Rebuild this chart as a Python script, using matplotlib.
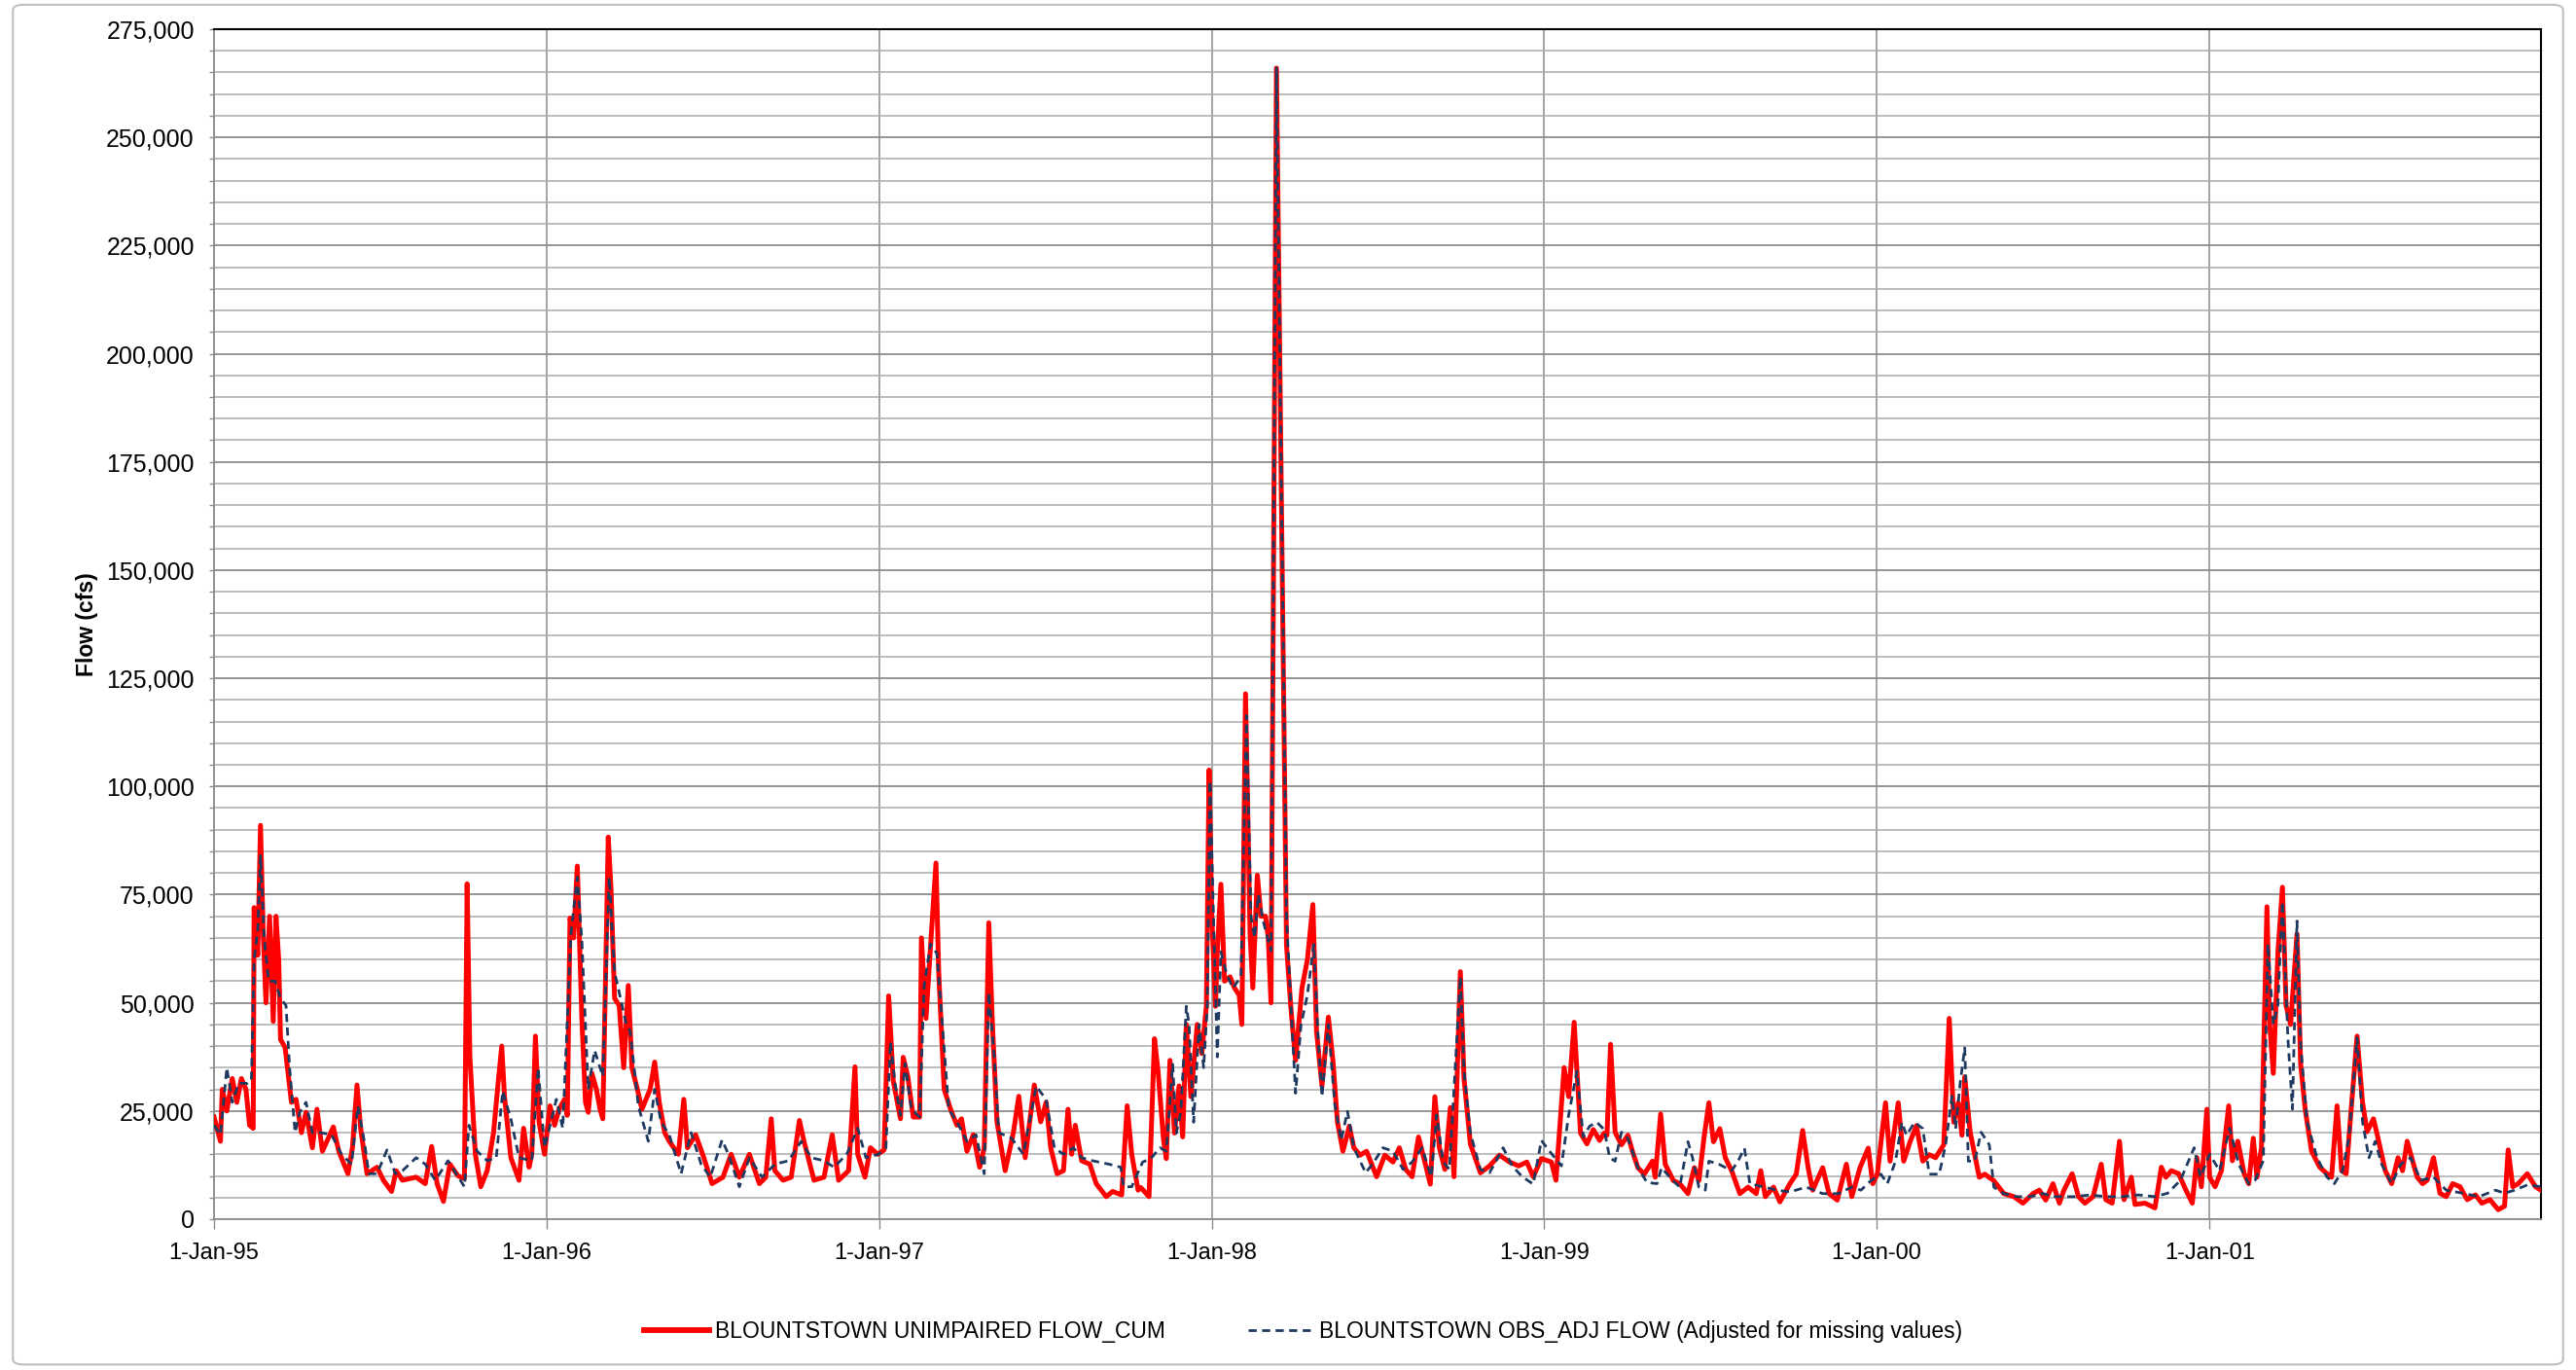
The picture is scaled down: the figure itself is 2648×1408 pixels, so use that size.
import matplotlib
matplotlib.use('Agg')
import matplotlib.pyplot as plt
from matplotlib.ticker import MultipleLocator, FuncFormatter
from matplotlib.patches import FancyBboxPatch
import numpy as np

plt.rcParams['font.family'] = ['Liberation Sans Narrow', 'Liberation Sans', 'DejaVu Sans']

# daily flow: (days since 1-Jan-1995, flow in 1000 cfs)
unimpaired = [
    (0, 23.6), (7, 18), (9, 30), (14, 25), (20, 32.5), (25, 27), (30, 32.5), (35, 30), (39, 21.7), (43, 21),
    (44, 72), (48, 61), (51, 91), (54, 66), (57, 50), (61, 70), (65, 45.7), (68, 70), (71, 60), (73, 41.5),
    (78, 39.7), (85, 27), (90, 27.7), (96, 20), (101, 24.7), (108, 16.5), (113, 25.4), (119, 15.7), (124, 18),
    (131, 21.3), (137, 15.7), (147, 10.5), (152, 16.5), (157, 31), (161, 21), (168, 10.5), (179, 12), (186, 9),
    (195, 6.4), (200, 11.2), (207, 9), (222, 9.7), (232, 8.2), (239, 16.8), (245, 8.2), (252, 4.1), (259, 12.7),
    (268, 10), (275, 9.4), (278, 77.5), (281, 37.4), (287, 15), (293, 7.5), (300, 11.2), (307, 20), (312, 31.4),
    (316, 40), (319, 28.4), (326, 14.2), (335, 9), (340, 21), (346, 12), (349, 15), (353, 42.3), (357, 22.5),
    (363, 15), (369, 26.2), (374, 21.7), (379, 25.4), (385, 27.7), (388, 24), (391, 69.6), (395, 65), (399, 81.6),
    (404, 46.4), (408, 27), (411, 24.7), (415, 33.7), (420, 30), (424, 25.4), (427, 23.2), (433, 88.3), (436, 76.3),
    (440, 51), (445, 49.4), (450, 35), (455, 54), (459, 35), (465, 30), (470, 25.4), (479, 30), (484, 36.3),
    (489, 27), (495, 20), (500, 18),
    (510, 15), (516, 27.7), (520, 16.5), (529, 19.5), (538, 14.2), (547, 8.2), (559, 9.7), (568, 15), (577, 9.7),
    (588, 15), (599, 8.2), (606, 9.7), (612, 23.2), (616, 11.2), (625, 9), (634, 9.7), (643, 22.8), (648, 18),
    (659, 9), (670, 9.7), (679, 19.5), (686, 9), (697, 11.2), (704, 35.2), (707, 15), (715, 9.7), (721, 16.5),
    (729, 15), (736, 16), (741, 51.6), (746, 32), (754, 23.2), (757, 37.4), (762, 33), (768, 23.6), (775, 23.6),
    (777, 65), (782, 46.4), (787, 63), (793, 82.3), (796, 57), (802, 30), (809, 25.4), (816, 21.7), (821, 23.2),
    (827, 15.7), (834, 19.5), (841, 12), (846, 16.5), (851, 68.5), (855, 45), (860, 22.5), (869, 11.2), (878, 20),
    (884, 28.4), (891, 14.2), (901, 31), (908, 22.5), (914, 27), (919, 16.5), (926, 10.5), (933, 11.2), (938, 25.4),
    (942, 15), (946, 21.7), (953, 13.5), (962, 12.7), (969, 8.2), (980, 5.2), (987, 6.4), (997, 5.6), (1003, 26.2),
    (1008, 15), (1015, 6.7),
    (1018, 7.3), (1027, 5.2), (1033, 41.7), (1037, 34), (1043, 18.2), (1046, 14), (1050, 36.7), (1055, 19.9),
    (1060, 30.8), (1064, 19), (1068, 45), (1073, 28.3), (1080, 45), (1085, 38.3), (1090, 49.2), (1093, 103.8),
    (1096, 70), (1100, 49.2), (1102, 61.8), (1106, 77.4), (1110, 55), (1116, 56), (1121, 53.4), (1126, 51.8),
    (1129, 45), (1133, 121.4), (1138, 66), (1141, 53.4), (1146, 79.5), (1150, 70), (1155, 70), (1158, 65),
    (1161, 50), (1167, 266), (1178, 63.4), (1183, 48.4), (1188, 36.7), (1195, 53.4), (1201, 60), (1207, 72.7),
    (1211, 43.4), (1217, 30.8), (1224, 46.7), (1229, 36.7), (1234, 22.4), (1240, 15.7), (1247, 21.5), (1252, 16.5),
    (1259, 14.8), (1266, 15.7), (1277, 9.8), (1286, 14.8), (1295, 13.2), (1302, 16.5), (1309, 11.5), (1316, 9.8),
    (1323, 19), (1330, 13.2), (1336, 8.1), (1341, 28.3), (1346, 16.5), (1352, 11.5), (1358, 25.8), (1362, 9.8),
    (1369, 57.2), (1373, 32.5), (1380, 17.4), (1391, 10.7), (1401, 12.3), (1412, 14.8), (1423, 13.2), (1433, 12.3),
    (1442, 13.2), (1449, 9.8), (1458, 14), (1469, 13.2), (1474, 9), (1483, 35), (1488, 28.3), (1494, 45.5),
    (1501, 19.9), (1508, 17.4), (1515, 20.7), (1522, 18.2), (1527, 19.9),
    (1530, 19.4), (1534, 40.4), (1539, 20.1), (1546, 17.2), (1553, 19.4), (1558, 15.7), (1564, 11.9), (1571, 10.4),
    (1580, 13.4), (1583, 9.7), (1589, 24.3), (1594, 12.7), (1603, 8.9), (1610, 8.2), (1619, 5.9), (1626, 11.9),
    (1631, 8.9), (1637, 19.4), (1642, 26.9), (1647, 17.9), (1654, 20.9), (1660, 14.2), (1667, 11.2), (1676, 5.9),
    (1685, 7.4), (1694, 5.9), (1699, 11.2), (1704, 5.2), (1713, 7.4), (1720, 4), (1731, 8.2), (1738, 10.4),
    (1745, 20.5), (1751, 11.9), (1756, 6.7), (1767, 11.9), (1774, 5.9), (1783, 4.4), (1793, 12.7), (1799, 5.2),
    (1808, 11.9), (1817, 16.4), (1822, 8.2), (1827, 10.4), (1836, 26.9), (1841, 13.4), (1850, 26.9), (1856, 13.4),
    (1863, 17.9), (1870, 21.6), (1877, 13.4), (1884, 14.9), (1891, 14.2), (1900, 17.2), (1906, 46.4), (1911, 22.4),
    (1916, 26.9), (1920, 19.4), (1923, 32.9), (1929, 20.1), (1934, 14.9), (1939, 9.7), (1945, 10.4), (1955, 8.9),
    (1966, 5.9), (1977, 5.2), (1987, 3.7), (1998, 5.9), (2005, 6.7), (2012, 4.4), (2020, 8.2), (2027, 3.7),
    (2032, 6.7), (2041, 10.5), (2048, 5.2), (2055, 3.7), (2064, 5.2), (2073, 12.7), (2078, 4.5), (2085, 3.7),
    (2093, 18), (2098, 4.5), (2106, 9.7), (2110, 3.4), (2121, 3.7), (2132, 2.6), (2139, 12), (2144, 9.7),
    (2150, 11.2), (2158, 10.5), (2166, 6.7), (2173, 3.7), (2178, 14.2), (2183, 7.5), (2189, 25.4), (2192, 9.7),
    (2198, 7.5), (2205, 11.2), (2213, 26.2), (2217, 13.5), (2223, 18), (2230, 10.5), (2235, 8.2), (2240, 18.7),
    (2244, 9.7), (2249, 16.5), (2255, 72.2), (2258, 45), (2262, 33.7), (2267, 61.4), (2272, 76.7), (2276, 49.4),
    (2281, 45), (2288, 65.9), (2292, 35.9), (2297, 25.4), (2304, 15.7), (2313, 12), (2321, 10.5), (2326, 9.7),
    (2332, 26.2), (2337, 11.2), (2342, 10.5), (2347, 24), (2354, 42.3), (2360, 27), (2365, 20.2), (2372, 23.2),
    (2377, 18.7), (2385, 11.2), (2392, 8.2), (2399, 14.2), (2404, 11.2), (2409, 18), (2415, 13.5), (2420, 9.7),
    (2426, 8.2), (2431, 9), (2438, 14.2), (2445, 6), (2452, 5.2), (2459, 8.2), (2467, 7.5), (2475, 4.5),
    (2484, 5.6), (2491, 3.7), (2500, 4.5), (2509, 2.2), (2516, 3), (2520, 16), (2525, 7.5), (2531, 8.2),
    (2541, 10.5), (2550, 7.5), (2556, 6.7),
]

observed = [
    (0, 21.7), (7, 19.5), (14, 35), (20, 27), (27, 31.4), (37, 31.4), (41, 32), (44, 60), (48, 67), (51, 84),
    (55, 65), (60, 55), (67, 55), (73, 51), (79, 49.4), (83, 35), (89, 20), (94, 24.7), (101, 27), (108, 20),
    (117, 20), (129, 19.5), (140, 15), (151, 12.7), (158, 26.2), (165, 18), (170, 10.5), (179, 10.5), (190, 16),
    (199, 10.5), (207, 11.2), (222, 14.2), (232, 12.7), (243, 9), (257, 13.5), (275, 7.5), (280, 21.7), (289, 15.7),
    (300, 13.5), (310, 14.2), (317, 29.6), (326, 23.2), (335, 14.2), (349, 13.5), (356, 35), (363, 16.5),
    (376, 27.7), (383, 21), (392, 66), (399, 79), (404, 64.4), (411, 30), (418, 39), (427, 33), (434, 79),
    (440, 57), (445, 52.4), (452, 45.7), (457, 43.4), (466, 26.2), (477, 18), (484, 30), (491, 22.5), (500, 19.5),
    (513, 10.5), (524, 20), (535, 12.7), (545, 9.7), (558, 18.3), (565, 15), (577, 7.5), (588, 14.2), (602, 9.7),
    (616, 12.7), (631, 13.5), (645, 18), (656, 14.2), (670, 13.5), (681, 12), (695, 15), (707, 21), (716, 14.2),
    (730, 15), (738, 16.5), (743, 41), (748, 31.4), (754, 24), (759, 36), (766, 25.4), (775, 23.6), (780, 54),
    (787, 63.6), (794, 61.4), (800, 45), (807, 25.4), (816, 22.5), (827, 18), (837, 19.5), (846, 10.5),
    (851, 52.4), (857, 37.4), (862, 20), (876, 18.7), (889, 15), (903, 30.7), (914, 27.7), (923, 16.5), (933, 15),
    (944, 16.5), (953, 14.2), (965, 13.5), (983, 12.7), (996, 12), (999, 7.5), (1008, 7.5),
    (1020, 13.2), (1029, 14), (1039, 16.5), (1046, 15.7), (1053, 35.8), (1057, 19.9), (1062, 24.9), (1068, 49.2),
    (1071, 45), (1076, 22.4), (1082, 45), (1087, 35), (1091, 49.2), (1094, 101.3), (1098, 68.4), (1102, 37.5),
    (1106, 61.8), (1112, 56.8), (1119, 53.4), (1128, 56), (1134, 116.4), (1139, 70), (1143, 65), (1147, 75),
    (1153, 68.4), (1161, 62), (1167, 266), (1178, 70), (1183, 49.2), (1188, 29.1), (1194, 45), (1201, 51.8),
    (1208, 63.5), (1213, 40.9), (1217, 28.3), (1224, 45), (1231, 26.6), (1238, 18.2), (1245, 24.9), (1252, 16.5),
    (1265, 10.7), (1274, 13.2), (1284, 16.5), (1295, 15.7), (1306, 11.5), (1316, 13.2), (1327, 16.5), (1337, 9.8),
    (1343, 24.1), (1350, 13.2), (1357, 11.5), (1369, 56), (1373, 34.2), (1380, 19.9), (1391, 11.5), (1401, 10.7),
    (1416, 16.5), (1426, 12.3), (1437, 9.8), (1449, 8.1), (1458, 18.2), (1467, 15.7), (1480, 12.3), (1488, 24.1),
    (1497, 34.2), (1504, 19), (1511, 21.5), (1519, 22.4), (1527, 20.7),
    (1533, 14.2), (1539, 13.4), (1546, 20.1), (1553, 18.7), (1564, 11.9), (1574, 8.5), (1585, 8.2), (1590, 11.9),
    (1599, 9.7), (1610, 7.4), (1619, 17.9), (1624, 14.2), (1631, 7.4), (1638, 6.7), (1642, 13.4), (1653, 12.7),
    (1667, 11.2), (1674, 13.4), (1681, 16.4), (1687, 8.2), (1703, 7.4), (1717, 6.7), (1731, 6.3), (1749, 7.4),
    (1767, 5.9), (1784, 5.9), (1799, 7.4), (1809, 6.7), (1820, 8.9), (1831, 10.4), (1838, 8.2), (1847, 13.4),
    (1854, 22.4), (1859, 19.4), (1868, 22.4), (1877, 20.9), (1884, 10.4), (1895, 10.4), (1902, 17.2), (1909, 28.4),
    (1913, 20.9), (1918, 31.4), (1923, 39.6), (1927, 13.4), (1934, 13.4), (1941, 20.1), (1950, 17.2), (1955, 7.4),
    (1966, 5.9), (1980, 5.2), (1995, 5.2), (2009, 5.9), (2023, 5.2),
    (2043, 5.2), (2061, 5.6), (2078, 5.2), (2096, 5.2), (2114, 5.6), (2132, 5.2), (2146, 6), (2160, 9),
    (2175, 16.5), (2182, 9.7), (2192, 15), (2203, 11.2), (2214, 21), (2224, 12.7), (2235, 8.2), (2242, 9),
    (2251, 13.5), (2256, 63.6), (2262, 45), (2267, 49.4), (2272, 73.4), (2278, 41.9), (2283, 25.4), (2288, 68.9),
    (2292, 40.4), (2299, 22.5), (2310, 14.2), (2321, 9.7), (2329, 8.2), (2338, 11.2), (2345, 18.7), (2354, 41.9),
    (2360, 22.5), (2367, 14.2), (2374, 18), (2381, 12.7), (2392, 8.2), (2402, 12.7), (2413, 14.2), (2424, 9),
    (2438, 9.7), (2452, 6.7), (2470, 6), (2488, 5.2), (2506, 6.7), (2516, 6), (2527, 6.7), (2541, 7.9),
    (2556, 7.5),
]

tick_dates = ['1995-01-01', '1996-01-01', '1997-01-01', '1998-01-01', '1999-01-01', '2000-01-01', '2001-01-01']
tick_labels = ['1-Jan-95', '1-Jan-96', '1-Jan-97', '1-Jan-98', '1-Jan-99', '1-Jan-00', '1-Jan-01']
label_unimp = 'BLOUNTSTOWN UNIMPAIRED FLOW_CUM'
label_obs = 'BLOUNTSTOWN OBS_ADJ FLOW (Adjusted for missing values)'

start = np.datetime64('1995-01-01')


def to_series(pairs):
    d = np.array([p[0] for p in pairs])
    v = np.array([p[1] for p in pairs]) * 1000
    return start + d.astype('timedelta64[D]'), v


u_x, u_y = to_series(unimpaired)
o_x, o_y = to_series(observed)

fig = plt.figure(figsize=(26.48, 14.08), dpi=100)
ax = fig.add_axes([0.0831, 0.1101, 0.9033, 0.8686])

ax.plot(u_x, u_y, color='#FF0000', lw=3.6, solid_joinstyle='round', zorder=3, label=label_unimp)
ax.plot(o_x, o_y, color='#1F3A60', lw=2.0, ls=(0, (3, 2)), zorder=4, label=label_obs)

ax.set_xlim(np.datetime64('1995-01-01'), np.datetime64('2001-12-31'))
ax.set_ylim(0, 275000)

ax.set_xticks(np.array(tick_dates, dtype='datetime64[D]'))
ax.set_xticklabels(tick_labels)
ax.yaxis.set_major_locator(MultipleLocator(25000))
ax.yaxis.set_minor_locator(MultipleLocator(5000))
ax.yaxis.set_major_formatter(FuncFormatter(lambda v, p: '{:,.0f}'.format(v)))

ax.set_axisbelow(True)
ax.grid(axis='y', which='major', color='#8C8C8C', lw=1.3)
ax.grid(axis='y', which='minor', color='#ABABAB', lw=1.1)
ax.grid(axis='x', which='major', color='#8C8C8C', lw=1.1)

ax.tick_params(axis='y', which='both', length=3.6, width=1, color='#8C8C8C', labelsize=18, pad=11)
ax.tick_params(axis='x', which='major', length=7, width=1, color='#8C8C8C', labelsize=17, pad=10)

for s in ['left', 'bottom']:
    ax.spines[s].set_color('#8C8C8C')
    ax.spines[s].set_linewidth(1.3)
for s in ['top', 'right']:
    ax.spines[s].set_color('#000000')
    ax.spines[s].set_linewidth(1.5)

ax.set_ylabel('Flow (cfs)', fontsize=16.5, fontweight='bold')
ax.yaxis.set_label_coords(-0.0498, 0.5)

leg = fig.legend(loc='center', bbox_to_anchor=(0.506, 0.028), ncol=2, frameon=False, fontsize=16.5,
                 handlelength=2.9, handletextpad=0.3, columnspacing=3.7)
leg.get_lines()[0].set_linewidth(4.2)

border = FancyBboxPatch((0.005, 0.004), 0.99, 0.9925, boxstyle='round,pad=0,rounding_size=0.004',
                        transform=fig.transFigure, fill=False, ec='#BFBFBF', lw=1.5)
fig.add_artist(border)

fig.savefig('out.png', dpi=100)
